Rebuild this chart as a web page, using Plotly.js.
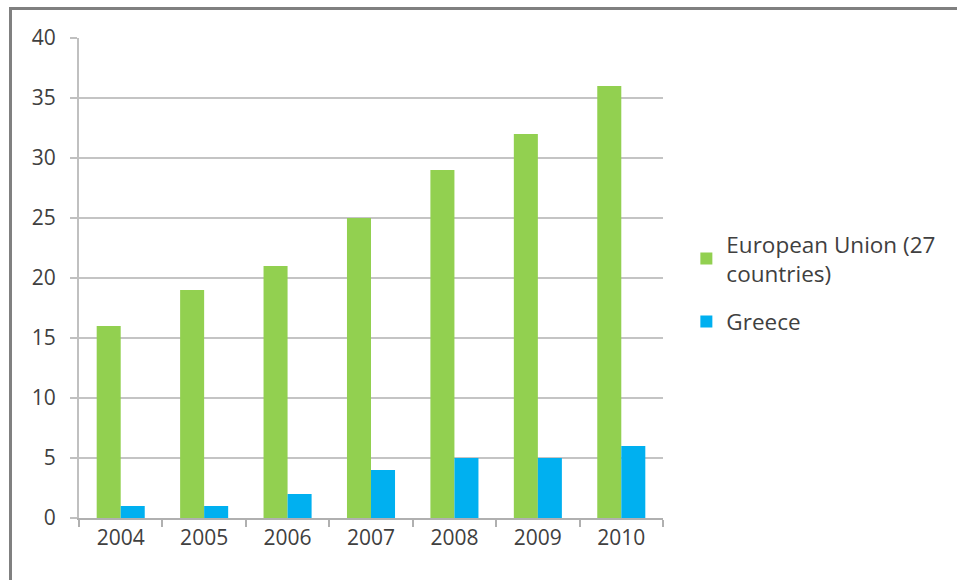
<!DOCTYPE html>
<html>
<head>
<meta charset="utf-8">
<script src="https://cdn.plot.ly/plotly-3.0.1.min.js"></script>
<style>
html,body{margin:0;padding:0;background:#fff;}
#wrap{position:relative;width:957px;height:580px;overflow:hidden;}
#chart{width:957px;height:580px;}
#frame{position:absolute;left:9px;top:7px;width:960px;height:600px;border-left:3px solid #808080;border-top:3px solid #808080;pointer-events:none;}
</style>
</head>
<body>
<div id="wrap"><div id="chart"></div><div id="frame"></div></div>
<script>
const years = ['2004','2005','2006','2007','2008','2009','2010'];
const euValues = [16, 19, 21, 25, 29, 32, 36];
const greeceValues = [1, 1, 2, 4, 5, 5, 6];
const seriesNames = ['European Union (27<br>countries)', 'Greece'];
const yTicks = [0,5,10,15,20,25,30,35,40];

const font = {family: 'Open Sans, Liberation Sans, sans-serif', size: 21, color: '#404040'};
const legendFont = {family: 'Open Sans, Liberation Sans, sans-serif', size: 22.5, color: '#404040'};

const data = [
  {type:'bar', x: years, y: euValues, name: seriesNames[0], legendgroup: 'eu', marker:{color:'#92d050'}},
  {type:'bar', x: years, y: greeceValues, name: seriesNames[1], legendgroup: 'gr', marker:{color:'#00b0f0'}}
];

const layout = {
  width: 957, height: 580,
  margin: {l: 79, r: 294, t: 38, b: 62},
  paper_bgcolor: '#fff', plot_bgcolor: '#fff',
  barmode: 'group', bargap: 0.424, bargroupgap: 0,
  font: font,
  showlegend: true,
  legend: {x: 1.04, y: 0.49, xanchor: 'left', yanchor: 'middle', font: legendFont,
           itemwidth: 30, tracegroupgap: 16, bgcolor: 'rgba(0,0,0,0)'},
  xaxis: {type: 'category', showline: true, linecolor: '#b0b0b0', linewidth: 2,
          ticks: 'outside', tickson: 'boundaries', ticklen: 7, tickcolor: '#b0b0b0', tickwidth: 2,
          showgrid: false, tickfont: font},
  yaxis: {range: [0, 40], tickvals: yTicks, showline: true, linecolor: '#c0c0c0', linewidth: 2,
          ticks: 'outside', ticklen: 7, tickcolor: '#c0c0c0', tickwidth: 2,
          gridcolor: '#c4c4c4', gridwidth: 2, zeroline: false, tickfont: font, ticklabelstandoff: 10}
};

Plotly.newPlot('chart', data, layout, {staticPlot: true, displayModeBar: false});
</script>
</body>
</html>
